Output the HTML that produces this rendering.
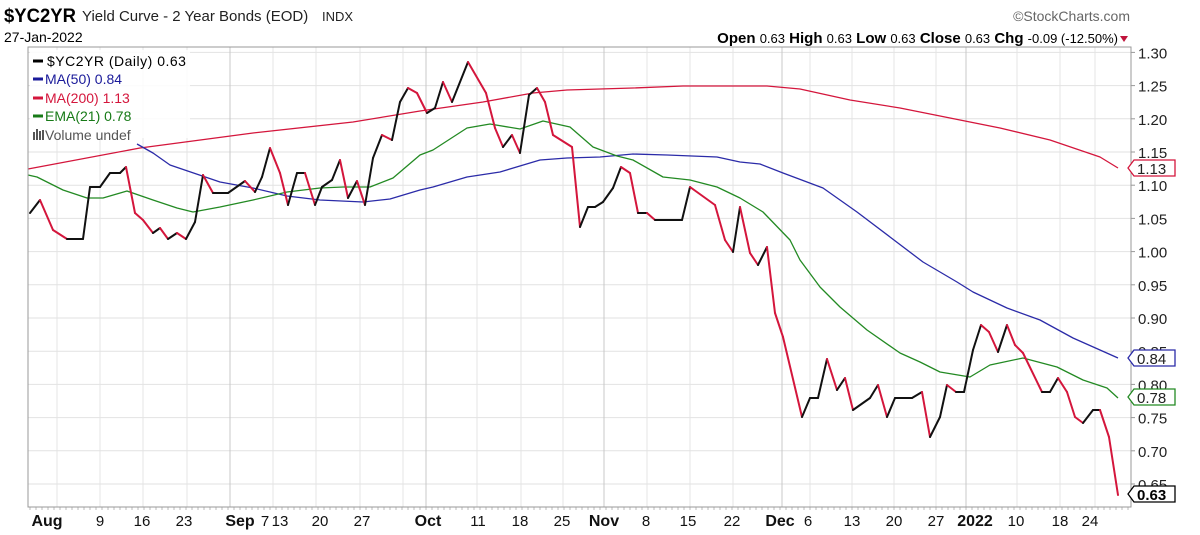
<!DOCTYPE html>
<html><head><meta charset="utf-8"><style>
html,body{margin:0;padding:0;background:#fff;width:1200px;height:535px;overflow:hidden}
svg{display:block;font-family:"Liberation Sans",sans-serif}
</style></head><body>
<svg id="s" width="1200" height="535" xmlns="http://www.w3.org/2000/svg">
<text x="4" y="22" font-size="19" font-weight="bold" fill="#000" textLength="72" lengthAdjust="spacingAndGlyphs">$YC2YR</text>
<text x="82" y="21" font-size="15" fill="#222">Yield Curve - 2 Year Bonds (EOD)</text>
<text x="322" y="21" font-size="13" fill="#222">INDX</text>
<text x="4" y="42" font-size="14" fill="#000">27-Jan-2022</text>
<text x="1130" y="21" font-size="14" fill="#666" text-anchor="end">©StockCharts.com</text>
<text x="1118" y="43" font-size="15" text-anchor="end" fill="#000"><tspan font-weight="bold">Open</tspan> <tspan font-size="13">0.63</tspan>  <tspan font-weight="bold">High</tspan> <tspan font-size="13">0.63</tspan>  <tspan font-weight="bold">Low</tspan> <tspan font-size="13">0.63</tspan>  <tspan font-weight="bold">Close</tspan> <tspan font-size="13">0.63</tspan>  <tspan font-weight="bold">Chg</tspan> <tspan font-size="13">-0.09 (-12.50%)</tspan></text>
<polygon points="1120,36 1128,36 1124,42" fill="#c0143c"/>
<g id="grid"></g>
<g id="lines"></g>
<rect x="28" y="47" width="1103" height="460" fill="none" stroke="#999" stroke-width="1"/>
<g id="legend" font-size="14">
<rect x="30" y="50" width="160" height="88" fill="#fff" opacity="0.85"/>
<line x1="33" y1="61" x2="43" y2="61" stroke="#000" stroke-width="3"/><text x="47" y="66" fill="#000" letter-spacing="0.5">$YC2YR (Daily) 0.63</text>
<line x1="33" y1="79" x2="43" y2="79" stroke="#1a1a9a" stroke-width="3"/><text x="45" y="84" fill="#1a1a9a">MA(50) 0.84</text>
<line x1="33" y1="98" x2="43" y2="98" stroke="#d4163c" stroke-width="3"/><text x="45" y="103" fill="#d4163c">MA(200) 1.13</text>
<line x1="33" y1="116" x2="43" y2="116" stroke="#177a17" stroke-width="3"/><text x="45" y="121" fill="#177a17">EMA(21) 0.78</text>
<rect x="33" y="132" width="2" height="8" fill="#555"/><rect x="36" y="129" width="2" height="11" fill="#555"/><rect x="39" y="131" width="2" height="9" fill="#555"/><rect x="42" y="130" width="2" height="10" fill="#555"/>
<text x="45" y="140" fill="#555">Volume undef</text>
</g>
<g id="tags"></g>
</svg>
<script>
const NS="http://www.w3.org/2000/svg";
function el(p,t,a,txt){const e=document.createElementNS(NS,t);for(const k in a)e.setAttribute(k,a[k]);if(txt!==undefined)e.textContent=txt;p.appendChild(e);return e;}
const g=document.getElementById('grid'),L=document.getElementById('lines'),T=document.getElementById('tags');
const Y=v=>318+(0.90-v)*664;
for(let i=0;i<=13;i++){const v=1.30-i*0.05,y=Y(v);
 if(y<507){el(g,'line',{x1:28,x2:1131,y1:y,y2:y,stroke:'#e2e2e2'});el(g,'line',{x1:1131,x2:1135,y1:y,y2:y,stroke:'#999'});
 el(g,'text',{x:1138,y:y+6,'font-size':15,fill:'#222'},v.toFixed(2));}}
const vg=[57,100,143,187,273,316,360,403,477,521,563,647,690,733,810,852,894,936,1017,1060,1095];
vg.forEach(x=>el(g,'line',{x1:x,x2:x,y1:47,y2:507,stroke:'#e4e4e4'}));
[230,426,604,782,966].forEach(x=>el(g,'line',{x1:x,x2:x,y1:47,y2:507,stroke:'#c8c8c8'}));
for(let x=30;x<1131;x+=6)el(g,'line',{x1:x,x2:x,y1:507,y2:510,stroke:'#bbb'});
const xl=[["Aug",47,1],["9",100],["16",142],["23",184],["Sep",240,1],["7",265],["13",280],["20",320],["27",362],["Oct",428,1],["11",478],["18",520],["25",562],["Nov",604,1],["8",646],["15",688],["22",732],["Dec",780,1],["6",808],["13",852],["20",894],["27",936],["2022",975,1],["10",1016],["18",1060],["24",1090]];
xl.forEach(a=>el(g,'text',{x:a[1],y:526,'font-size':a[2]?16:15,'font-weight':a[2]?'bold':'normal','text-anchor':'middle',fill:'#111'},a[0]));
function poly(pts,c,w){el(L,'polyline',{points:pts.map(p=>p.join(',')).join(' '),fill:'none',stroke:c,'stroke-width':w||1.3,'stroke-linejoin':'round'});}
poly([[28,169],[140,148],[253,133],[353,122],[420,111],[483,102],[533,93],[567,90],[633,88],[683,86],[767,86],[800,89],[850,100],[900,108],[950,118],[1000,128],[1050,140],[1100,157],[1118,168]],'#d4163c');
poly([[137,144],[153,153],[170,165],[220,182],[253,188],[287,196],[320,200],[363,202],[390,199],[420,190],[433,187],[467,177],[500,172],[540,160],[567,158],[600,157],[633,154],[667,155],[717,157],[740,162],[760,164],[783,173],[823,188],[857,212],[890,237],[923,262],[957,282],[973,292],[1007,308],[1040,320],[1073,338],[1118,358]],'#2b2ba8');
poly([[28,175],[37,177],[63,190],[87,198],[103,198],[127,191],[153,200],[177,208],[193,212],[220,207],[253,200],[287,192],[320,188],[343,187],[370,187],[393,178],[420,155],[433,150],[467,128],[490,124],[520,129],[543,121],[570,127],[593,147],[617,156],[633,160],[663,177],[690,180],[717,187],[740,198],[763,212],[790,240],[800,260],[820,287],[840,307],[867,330],[900,353],[920,362],[940,372],[970,377],[990,365],[1023,358],[1057,367],[1083,380],[1107,388],[1118,398]],'#238a23');
const P=[[30,213],[40,200],[53,230],[67,239],[83,239],[90,187],[100,187],[110,173],[120,173],[126,167],[135,213],[143,220],[153,233],[160,228],[168,239],[177,233],[186,239],[195,222],[203,175],[213,193],[228,193],[245,181],[255,192],[262,177],[270,148],[280,173],[288,205],[297,173],[305,173],[315,205],[322,187],[332,180],[340,160],[348,198],[357,181],[365,205],[373,158],[382,135],[392,140],[400,102],[408,88],[417,93],[427,113],[435,108],[443,82],[452,102],[468,62],[486,93],[495,128],[503,147],[512,135],[520,153],[529,95],[537,88],[545,102],[553,135],[572,147],[580,227],[588,207],[595,207],[603,202],[613,188],[621,167],[630,173],[638,213],[647,213],[655,220],[682,220],[690,187],[715,205],[725,240],[733,252],[740,207],[750,253],[758,265],[767,247],[775,313],[783,337],[802,417],[810,398],[818,398],[827,359],[837,390],[845,378],[853,410],[870,398],[878,385],[887,417],[895,398],[912,398],[922,392],[930,437],[940,417],[947,385],[956,392],[964,392],[973,350],[981,325],[989,332],[998,352],[1007,325],[1015,345],[1023,353],[1042,392],[1050,392],[1058,378],[1067,392],[1075,417],[1083,423],[1093,410],[1100,410],[1109,437],[1118,495]];
for(let i=1;i<P.length;i++){const a=P[i-1],b=P[i];el(L,'line',{x1:a[0],y1:a[1],x2:b[0],y2:b[1],stroke:b[1]>a[1]?'#d4163c':'#111','stroke-width':2,'stroke-linecap':'round'});}
function tag(y,txt,c,bold){el(T,'polygon',{points:`1128,${y} 1134,${y-8} 1175,${y-8} 1175,${y+8} 1134,${y+8}`,fill:'#fff',stroke:c,'stroke-width':1.3});
 el(T,'text',{x:1137,y:y+6,'font-size':15,fill:bold?'#000':'#222','font-weight':bold?'bold':'normal'},txt);}
tag(168,'1.13','#d4163c');tag(358,'0.84','#2b2ba8');tag(397,'0.78','#238a23');tag(494,'0.63','#000',1);
</script>
</body></html>
